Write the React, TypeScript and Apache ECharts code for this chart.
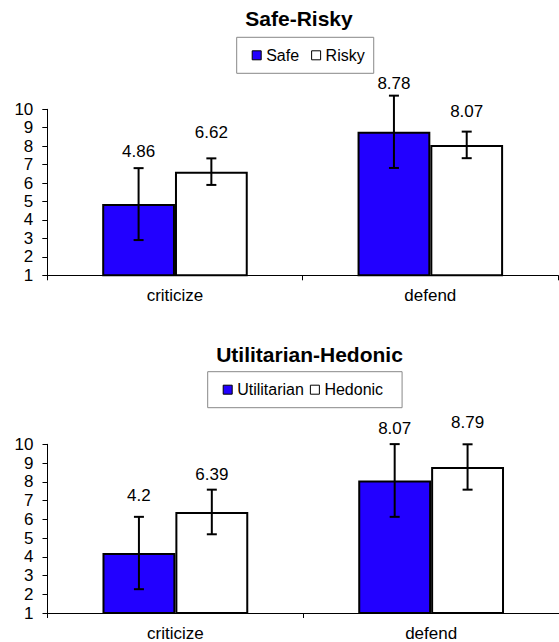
import React, { useEffect, useRef } from "react";
import * as echarts from "echarts";

// ---- data ----
const categories = ["criticize", "defend"];

const safeValues = [4.86, 8.78];
const riskyValues = [6.62, 8.07];
const safeErrors = [1.95, 1.96];
const riskyErrors = [0.72, 0.72];

const utilitarianValues = [4.2, 8.07];
const hedonicValues = [6.39, 8.79];
const utilitarianErrors = [1.93, 1.94];
const hedonicErrors = [1.19, 1.21];

const yMin = 1;
const yMax = 10;
const yInterval = 1;

// ---- style / layout ----
const FONT = "'Liberation Sans', Arial, Helvetica, sans-serif";
const BLUE = "#2200FF";
const CAT_GAP = 0.43;
// distance (px) from bar top to its value label, per chart / series / category
const LABEL_DIST = {
  top: { a: [44, 40], b: [31, 25] },
  bottom: { a: [49, 43], b: [29, 36] },
};

function barSeries(name: string, values: number[], color: string, gridIdx: number, dist: number[]) {
  return {
    type: "bar",
    name,
    xAxisIndex: gridIdx,
    yAxisIndex: gridIdx,
    barGap: "0%",
    barCategoryGap: CAT_GAP * 100 + "%",
    data: values.map((v, i) => ({
      value: v,
      label: { distance: dist[i] },
    })),
    itemStyle: { color, borderColor: "#000", borderWidth: 2 },
    label: {
      show: true,
      position: "top",
      color: "#000",
      fontSize: 17,
      fontFamily: FONT,
      formatter: (p: any) => String(p.value),
    },
    emphasis: { disabled: true },
  };
}

function errSeries(values: number[], errors: number[], gridIdx: number, side: number) {
  return {
    type: "custom",
    xAxisIndex: gridIdx,
    yAxisIndex: gridIdx,
    silent: true,
    z: 5,
    encode: { x: 0, y: [1, 2] },
    data: values.map((v, i) => [i, v - errors[i], v + errors[i]]),
    renderItem: (params: any, api: any) => {
      const band = api.size([1, 0])[0];
      const barW = (band * (1 - CAT_GAP)) / 2;
      const ci = api.value(0);
      const pHi = api.coord([ci, api.value(2)]);
      const pLo = api.coord([ci, api.value(1)]);
      const cx = pHi[0] + (side * barW) / 2;
      const cap = 5;
      const st = { stroke: "#000", lineWidth: 2 };
      return {
        type: "group",
        children: [
          { type: "line", shape: { x1: cx, y1: pHi[1], x2: cx, y2: pLo[1] }, style: st },
          { type: "line", shape: { x1: cx - cap, y1: pHi[1], x2: cx + cap, y2: pHi[1] }, style: st },
          { type: "line", shape: { x1: cx - cap, y1: pLo[1], x2: cx + cap, y2: pLo[1] }, style: st },
        ],
      };
    },
  };
}

function xAxis(gridIdx: number) {
  return {
    type: "category",
    gridIndex: gridIdx,
    data: categories,
    boundaryGap: true,
    axisLine: { show: true, lineStyle: { color: "#000", width: 1 } },
    axisTick: { show: true, interval: 0, length: 5, lineStyle: { color: "#000" } },
    axisLabel: { color: "#000", fontSize: 17, fontFamily: FONT, margin: 12, interval: 0 },
    splitLine: { show: false },
  };
}

function yAxis(gridIdx: number) {
  return {
    type: "value",
    gridIndex: gridIdx,
    min: yMin,
    max: yMax,
    interval: yInterval,
    axisLine: { show: true, lineStyle: { color: "#000", width: 1 } },
    axisTick: { show: true, length: 5, lineStyle: { color: "#000" } },
    axisLabel: { color: "#000", fontSize: 17, fontFamily: FONT, margin: 14 },
    splitLine: { show: false },
  };
}

function legend(names: string[], left: number, top: number, gap: number, padR: number) {
  return {
    data: names,
    left,
    top,
    orient: "horizontal",
    icon: "rect",
    itemWidth: 9,
    itemHeight: 9,
    itemGap: gap,
    padding: [10, padR, 10, 15],
    borderColor: "#888",
    borderWidth: 1,
    backgroundColor: "#fff",
    selectedMode: false,
    itemStyle: { borderColor: "#000", borderWidth: 1 },
    textStyle: { color: "#000", fontSize: 16, fontFamily: FONT },
  };
}

export default function App() {
  const ref = useRef<HTMLDivElement>(null);

  useEffect(() => {
    if (!ref.current) return;
    const chart = echarts.init(ref.current, null, { renderer: "svg" });
    chart.setOption({
      animation: false,
      backgroundColor: "#fff",
      graphic: [
        {
          type: "text",
          x: 299,
          y: 18,
          style: {
            text: "Safe-Risky",
            fill: "#000",
            font: `bold 21px ${FONT}`,
            textAlign: "center",
            textVerticalAlign: "middle",
          },
        },
        {
          type: "text",
          x: 309.5,
          y: 354,
          style: {
            text: "Utilitarian-Hedonic",
            fill: "#000",
            font: `bold 21px ${FONT}`,
            textAlign: "center",
            textVerticalAlign: "middle",
          },
        },
      ],
      legend: [
        legend(["Safe", "Risky"], 236.7, 37.3, 12, 9),
        legend(["Utilitarian", "Hedonic"], 207.7, 371.7, 6, 19),
      ],
      grid: [
        { left: 47.3, top: 109.3, width: 510.7, height: 166 },
        { left: 47.5, top: 444.3, width: 513, height: 169 },
      ],
      xAxis: [xAxis(0), xAxis(1)],
      yAxis: [yAxis(0), yAxis(1)],
      series: [
        barSeries("Safe", safeValues, BLUE, 0, LABEL_DIST.top.a),
        barSeries("Risky", riskyValues, "#fff", 0, LABEL_DIST.top.b),
        errSeries(safeValues, safeErrors, 0, -1),
        errSeries(riskyValues, riskyErrors, 0, 1),
        barSeries("Utilitarian", utilitarianValues, BLUE, 1, LABEL_DIST.bottom.a),
        barSeries("Hedonic", hedonicValues, "#fff", 1, LABEL_DIST.bottom.b),
        errSeries(utilitarianValues, utilitarianErrors, 1, -1),
        errSeries(hedonicValues, hedonicErrors, 1, 1),
      ],
    });
    return () => chart.dispose();
  }, []);

  return (
    <div
      ref={ref}
      style={{ position: "fixed", left: 0, top: 0, width: 559, height: 642, background: "#fff" }}
    />
  );
}
